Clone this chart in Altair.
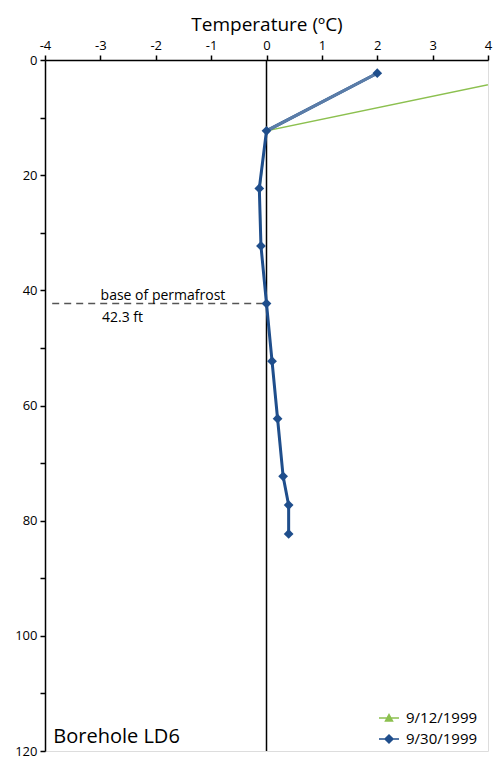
import altair as alt
import pandas as pd

depth_ft = [2.3, 12.3, 22.3, 32.3, 42.3, 52.3, 62.3, 72.3, 77.3, 82.3]
temp_0912 = [5.0, 0.0, -0.12, -0.1, 0.0, 0.1, 0.2, 0.3, 0.4, 0.4]
temp_0930 = [2.0, 0.0, -0.13, -0.1, 0.0, 0.1, 0.2, 0.3, 0.4, 0.4]
series_names = ["9/12/1999", "9/30/1999"]
series_colors = ["#8CC04F", "#1F4E8C"]
top_segment_color = "#5B7DA8"
x_tick_values = [-4, -3.5, -3, -2.5, -2, -1.5, -1, -0.5, 0, 0.5, 1, 1.5, 2, 2.5, 3, 3.5, 4]
y_tick_values = [0, 10, 20, 30, 40, 50, 60, 70, 80, 90, 100, 110, 120]
permafrost_depth = 42.3
ann_x = [-1.87, -2.6]
ann_y = [41.0, 44.8]
ann_text = ["base of permafrost", "42.3 ft"]

FONT = "Open Sans"

rows = []
for d, t in zip(depth_ft, temp_0912):
    rows.append({"series": series_names[0], "depth": d, "temp": t})
for d, t in zip(depth_ft, temp_0930):
    rows.append({"series": series_names[1], "depth": d, "temp": t})
df = pd.DataFrame(rows)
df_g = df[df.series == series_names[0]]
df_b = df[df.series == series_names[1]]
df_top = df_b[df_b.depth <= depth_ft[1]]
one = pd.DataFrame({"k": [0]})

xscale = alt.Scale(domain=[-4, 4], nice=False, zero=False)
yscale = alt.Scale(domain=[0, 120], reverse=True, nice=False, zero=False)

x_enc = alt.X(
    "temp:Q", scale=xscale,
    axis=alt.Axis(orient="top", values=x_tick_values,
                  labelExpr="datum.value % 1 == 0 ? '' + datum.value : ''",
                  title="Temperature (ºC)", titleFontSize=19, titleFontWeight="normal",
                  titlePadding=5, labelFontSize=13, labelPadding=3, labelFlush=False,
                  grid=False, domainColor="black", domainWidth=1.5,
                  tickColor="black", tickWidth=1.5, tickSize=5, labelColor="black",
                  titleColor="black", labelFont=FONT, titleFont=FONT),
)
y_enc = alt.Y(
    "depth:Q", scale=yscale,
    axis=alt.Axis(orient="left", values=y_tick_values,
                  labelExpr="datum.value % 20 == 0 ? '' + datum.value : ''",
                  title=None, labelFontSize=13, labelPadding=3, labelFlush=False,
                  grid=False, domainColor="black", domainWidth=1.5,
                  tickColor="black", tickWidth=1.5, tickSize=5, labelColor="black",
                  labelFont=FONT),
)

green_line = alt.Chart(df_g).mark_line(color=series_colors[0], strokeWidth=1.5, clip=True).encode(
    x=x_enc, y=y_enc, order="depth:Q")
blue_line = alt.Chart(df_b).mark_line(color=series_colors[1], strokeWidth=3, clip=True).encode(
    x=x_enc, y=y_enc, order="depth:Q")
top_line = alt.Chart(df_top).mark_line(color=top_segment_color, strokeWidth=3, clip=True).encode(
    x=x_enc, y=y_enc, order="depth:Q")
blue_pts = alt.Chart(df_b).mark_point(shape="diamond", filled=True, size=95, opacity=1,
                                      color=series_colors[1]).encode(x=x_enc, y=y_enc)

legend_paths = [
    "M-1,0H1M0,-0.35L0.35,0.3L-0.35,0.3Z",
    "M-1,0H1M0,-0.4L0.4,0L0,0.4L-0.4,0Z",
]
leg = alt.Legend(title=None, orient="none", legendX=333, legendY=647, padding=0,
                 symbolSize=400, symbolStrokeWidth=1.5, symbolOpacity=1,
                 labelFontSize=15, labelFont=FONT, labelColor="black",
                 labelOffset=6, rowPadding=2)
legend_layer = alt.Chart(df).mark_point(filled=True, opacity=0).encode(
    x=x_enc, y=y_enc,
    fill=alt.Fill("series:N", scale=alt.Scale(domain=series_names, range=series_colors), legend=leg),
    stroke=alt.Stroke("series:N", scale=alt.Scale(domain=series_names, range=series_colors), legend=leg),
    shape=alt.Shape("series:N", scale=alt.Scale(domain=series_names, range=legend_paths), legend=leg),
)

zero_rule = alt.Chart(one).mark_rule(color="black", strokeWidth=1.5).encode(x=alt.datum(0))
base_rule = alt.Chart(one).mark_rule(color="#555555", strokeWidth=1.5, strokeDash=[7, 5]).encode(
    x=alt.datum(-3.87), x2=alt.datum(0), y=alt.datum(permafrost_depth))

ann_df = pd.DataFrame({"x": ann_x, "y": ann_y, "text": ann_text})
ann = alt.Chart(ann_df).mark_text(font=FONT, fontSize=14, color="black", align="center",
                                  baseline="middle", fontWeight=400).encode(
    x=alt.X("x:Q", scale=xscale), y=alt.Y("y:Q", scale=yscale), text="text:N")
bore = alt.Chart(one).mark_text(font=FONT, fontSize=20, color="black", align="left",
                                baseline="alphabetic", fontWeight=400).encode(
    x=alt.datum(-3.85), y=alt.datum(118.6), text=alt.value("Borehole LD6"))

chart = alt.layer(
    legend_layer, zero_rule, base_rule, green_line, blue_line, top_line, blue_pts, ann, bore
).properties(
    width=443, height=691,
    padding={"left": 37, "top": 52, "right": 7, "bottom": 7},
    autosize="none",
).configure_view(stroke="black", strokeWidth=1.5).configure(background="white")

chart.save("out.html", embed_options={"renderer": "svg", "actions": False})
